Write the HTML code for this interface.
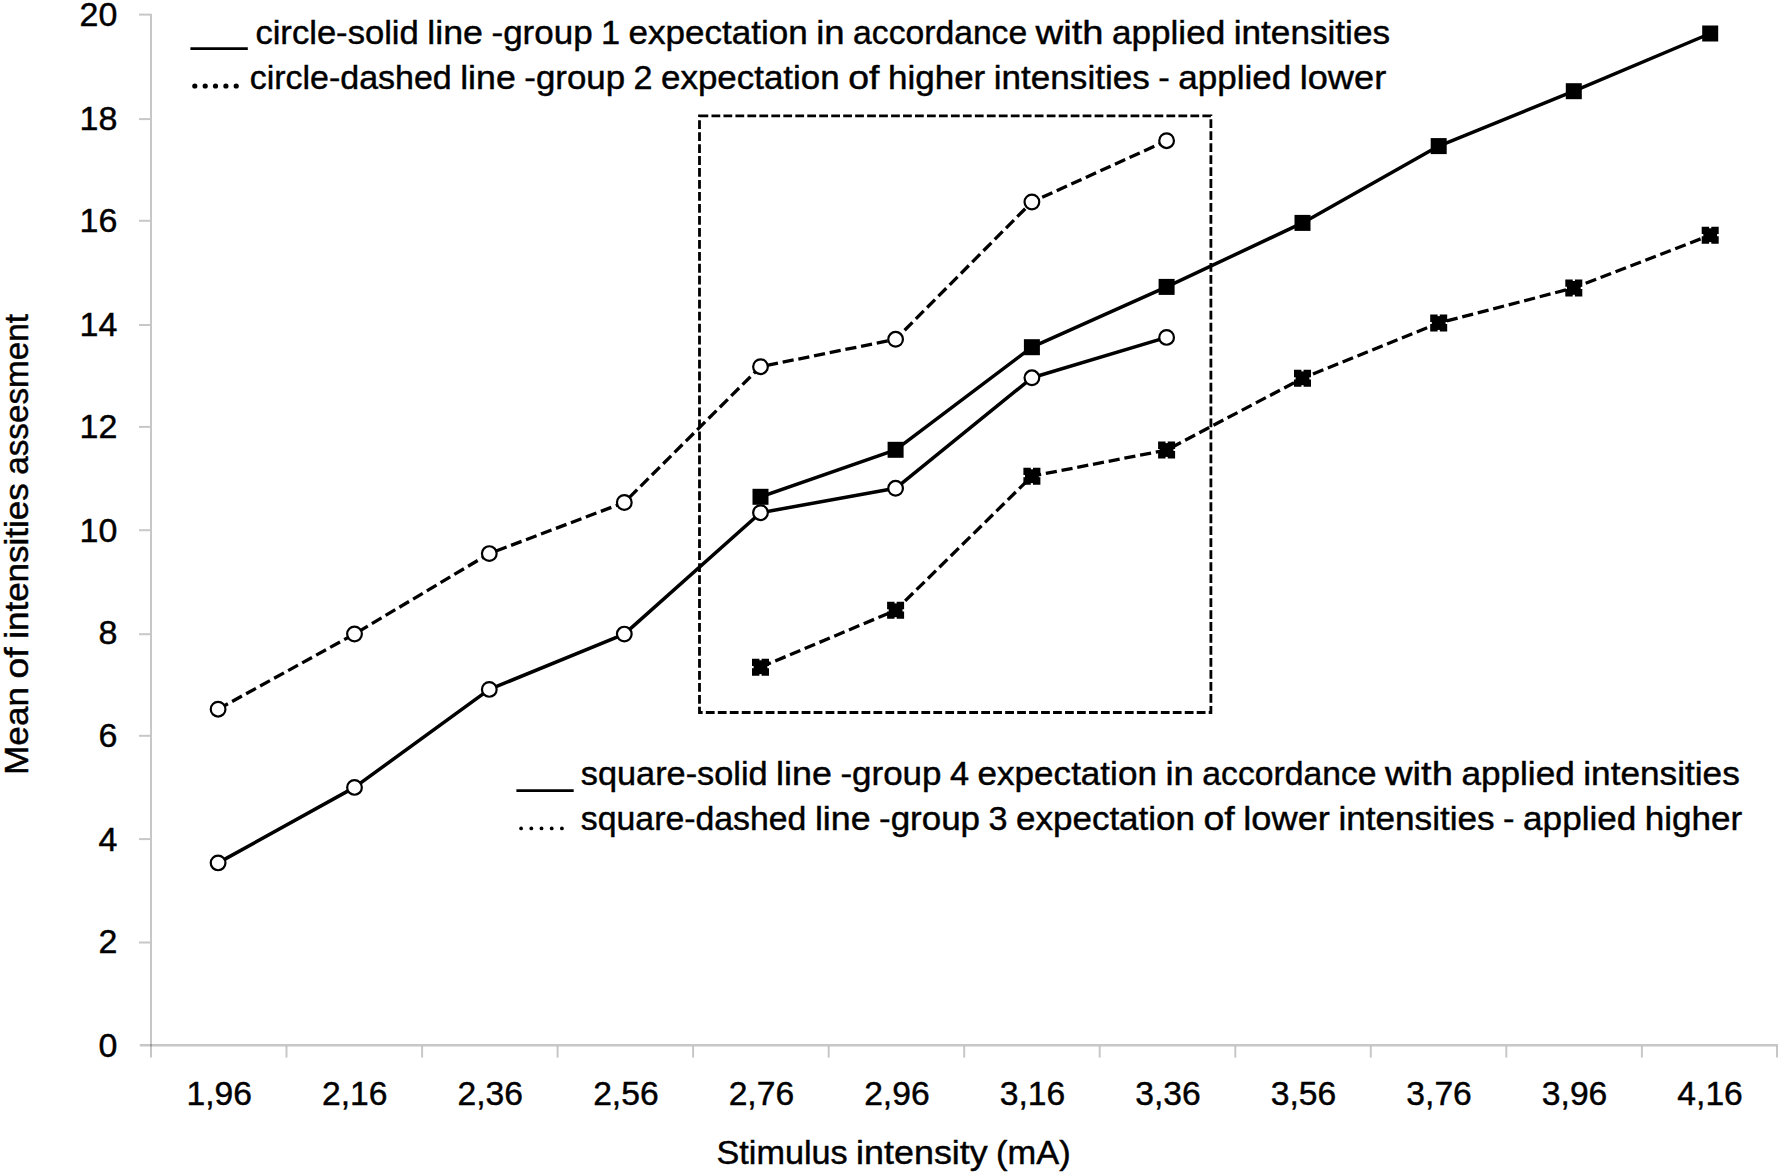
<!DOCTYPE html>
<html lang="en"><head><meta charset="utf-8"><title>Mean of intensities assesment vs stimulus intensity</title>
<style>
html,body{margin:0;padding:0;background:#fff}
svg{display:block}
text{font-family:"Liberation Sans", sans-serif;font-size:34px;fill:#000;stroke:#000;stroke-width:.45;stroke-linejoin:round}
.ax{stroke:#000;stroke-opacity:.22;stroke-width:2;fill:none}
.sl{stroke:#000;stroke-width:3.5;fill:none;stroke-linejoin:round}
.dl{stroke:#000;stroke-width:3.3;fill:none;stroke-dasharray:11.2 4.8}
.ci{fill:#fff;stroke:#000;stroke-width:2.2}
.sq{fill:#000}
.dq{fill:#000;stroke:#000;stroke-width:3.2;stroke-dasharray:11.6 2.2;stroke-dashoffset:5.8}
</style></head><body>
<svg width="1778" height="1172" viewBox="0 0 1778 1172">
<rect width="1778" height="1172" fill="#fff"/>
<g class="ax">
<line x1="151.0" y1="13.7" x2="151.0" y2="1057.6"/>
<line x1="139.8" y1="1045.3" x2="1778" y2="1045.3" stroke-width="2.5"/>
<line x1="139" y1="942.5" x2="150.0" y2="942.5"/>
<line x1="139" y1="839.1" x2="150.0" y2="839.1"/>
<line x1="139" y1="735.8" x2="150.0" y2="735.8"/>
<line x1="139" y1="634.2" x2="150.0" y2="634.2"/>
<line x1="139" y1="530.2" x2="150.0" y2="530.2"/>
<line x1="139" y1="426.9" x2="150.0" y2="426.9"/>
<line x1="139" y1="325.0" x2="150.0" y2="325.0"/>
<line x1="139" y1="220.8" x2="150.0" y2="220.8"/>
<line x1="139" y1="119.1" x2="150.0" y2="119.1"/>
<line x1="139" y1="14.6" x2="150.0" y2="14.6"/>
<line x1="286.5" y1="1046.3" x2="286.5" y2="1057.6"/>
<line x1="422.1" y1="1046.3" x2="422.1" y2="1057.6"/>
<line x1="557.6" y1="1046.3" x2="557.6" y2="1057.6"/>
<line x1="693.1" y1="1046.3" x2="693.1" y2="1057.6"/>
<line x1="828.7" y1="1046.3" x2="828.7" y2="1057.6"/>
<line x1="964.2" y1="1046.3" x2="964.2" y2="1057.6"/>
<line x1="1099.7" y1="1046.3" x2="1099.7" y2="1057.6"/>
<line x1="1235.3" y1="1046.3" x2="1235.3" y2="1057.6"/>
<line x1="1370.8" y1="1046.3" x2="1370.8" y2="1057.6"/>
<line x1="1506.3" y1="1046.3" x2="1506.3" y2="1057.6"/>
<line x1="1641.9" y1="1046.3" x2="1641.9" y2="1057.6"/>
<line x1="1777.0" y1="1046.3" x2="1777.0" y2="1057.6"/>
</g>
<g text-anchor="end">
<text x="117.4" y="1056.5">0</text>
<text x="117.4" y="953.0">2</text>
<text x="117.4" y="850.7">4</text>
<text x="117.4" y="747.4">6</text>
<text x="117.4" y="644.3">8</text>
<text x="117.4" y="541.6">10</text>
<text x="117.4" y="438.0">12</text>
<text x="117.4" y="335.6">14</text>
<text x="117.4" y="232.3">16</text>
<text x="117.4" y="130.0">18</text>
<text x="117.4" y="26.0">20</text>
</g>
<g text-anchor="middle">
<text x="219.3" y="1105.0" textLength="65.5" lengthAdjust="spacingAndGlyphs">1,96</text>
<text x="354.8" y="1105.0" textLength="65.5" lengthAdjust="spacingAndGlyphs">2,16</text>
<text x="490.3" y="1105.0" textLength="65.5" lengthAdjust="spacingAndGlyphs">2,36</text>
<text x="625.9" y="1105.0" textLength="65.5" lengthAdjust="spacingAndGlyphs">2,56</text>
<text x="761.4" y="1105.0" textLength="65.5" lengthAdjust="spacingAndGlyphs">2,76</text>
<text x="896.9" y="1105.0" textLength="65.5" lengthAdjust="spacingAndGlyphs">2,96</text>
<text x="1032.5" y="1105.0" textLength="65.5" lengthAdjust="spacingAndGlyphs">3,16</text>
<text x="1168.0" y="1105.0" textLength="65.5" lengthAdjust="spacingAndGlyphs">3,36</text>
<text x="1303.5" y="1105.0" textLength="65.5" lengthAdjust="spacingAndGlyphs">3,56</text>
<text x="1439.1" y="1105.0" textLength="65.5" lengthAdjust="spacingAndGlyphs">3,76</text>
<text x="1574.6" y="1105.0" textLength="65.5" lengthAdjust="spacingAndGlyphs">3,96</text>
<text x="1710.1" y="1105.0" textLength="65.5" lengthAdjust="spacingAndGlyphs">4,16</text>
</g>
<text y="43.6"><tspan x="255.4" textLength="163.4" lengthAdjust="spacingAndGlyphs">circle-solid</tspan> <tspan x="427.3" textLength="55.7" lengthAdjust="spacingAndGlyphs">line</tspan> <tspan x="491.5" textLength="101.1" lengthAdjust="spacingAndGlyphs">-group</tspan> <tspan x="601.0" textLength="19.1" lengthAdjust="spacingAndGlyphs">1</tspan> <tspan x="628.6" textLength="179.1" lengthAdjust="spacingAndGlyphs">expectation</tspan> <tspan x="816.2" textLength="28.4" lengthAdjust="spacingAndGlyphs">in</tspan> <tspan x="853.1" textLength="174.1" lengthAdjust="spacingAndGlyphs">accordance</tspan> <tspan x="1035.6" textLength="67.9" lengthAdjust="spacingAndGlyphs">with</tspan> <tspan x="1112.0" textLength="113.2" lengthAdjust="spacingAndGlyphs">applied</tspan> <tspan x="1233.7" textLength="156.4" lengthAdjust="spacingAndGlyphs">intensities</tspan></text>
<text y="88.6"><tspan x="249.7" textLength="202.0" lengthAdjust="spacingAndGlyphs">circle-dashed</tspan> <tspan x="460.2" textLength="55.6" lengthAdjust="spacingAndGlyphs">line</tspan> <tspan x="524.3" textLength="100.8" lengthAdjust="spacingAndGlyphs">-group</tspan> <tspan x="633.5" textLength="19.0" lengthAdjust="spacingAndGlyphs">2</tspan> <tspan x="661.0" textLength="178.7" lengthAdjust="spacingAndGlyphs">expectation</tspan> <tspan x="848.2" textLength="31.2" lengthAdjust="spacingAndGlyphs">of</tspan> <tspan x="887.9" textLength="97.4" lengthAdjust="spacingAndGlyphs">higher</tspan> <tspan x="993.8" textLength="156.0" lengthAdjust="spacingAndGlyphs">intensities</tspan> <tspan x="1158.3" textLength="11.5" lengthAdjust="spacingAndGlyphs">-</tspan> <tspan x="1178.2" textLength="113.0" lengthAdjust="spacingAndGlyphs">applied</tspan> <tspan x="1299.7" textLength="86.5" lengthAdjust="spacingAndGlyphs">lower</tspan></text>
<text y="785.2"><tspan x="580.8" textLength="186.8" lengthAdjust="spacingAndGlyphs">square-solid</tspan> <tspan x="776.1" textLength="55.8" lengthAdjust="spacingAndGlyphs">line</tspan> <tspan x="840.4" textLength="101.1" lengthAdjust="spacingAndGlyphs">-group</tspan> <tspan x="950.0" textLength="19.1" lengthAdjust="spacingAndGlyphs">4</tspan> <tspan x="977.6" textLength="179.3" lengthAdjust="spacingAndGlyphs">expectation</tspan> <tspan x="1165.4" textLength="28.4" lengthAdjust="spacingAndGlyphs">in</tspan> <tspan x="1202.3" textLength="174.2" lengthAdjust="spacingAndGlyphs">accordance</tspan> <tspan x="1385.0" textLength="67.9" lengthAdjust="spacingAndGlyphs">with</tspan> <tspan x="1461.4" textLength="113.4" lengthAdjust="spacingAndGlyphs">applied</tspan> <tspan x="1583.3" textLength="156.5" lengthAdjust="spacingAndGlyphs">intensities</tspan></text>
<text y="830.3"><tspan x="580.8" textLength="225.6" lengthAdjust="spacingAndGlyphs">square-dashed</tspan> <tspan x="814.9" textLength="55.7" lengthAdjust="spacingAndGlyphs">line</tspan> <tspan x="879.0" textLength="101.0" lengthAdjust="spacingAndGlyphs">-group</tspan> <tspan x="988.5" textLength="19.0" lengthAdjust="spacingAndGlyphs">3</tspan> <tspan x="1016.0" textLength="179.0" lengthAdjust="spacingAndGlyphs">expectation</tspan> <tspan x="1203.5" textLength="31.3" lengthAdjust="spacingAndGlyphs">of</tspan> <tspan x="1243.3" textLength="86.6" lengthAdjust="spacingAndGlyphs">lower</tspan> <tspan x="1338.4" textLength="156.3" lengthAdjust="spacingAndGlyphs">intensities</tspan> <tspan x="1503.1" textLength="11.5" lengthAdjust="spacingAndGlyphs">-</tspan> <tspan x="1523.1" textLength="113.2" lengthAdjust="spacingAndGlyphs">applied</tspan> <tspan x="1644.7" textLength="97.6" lengthAdjust="spacingAndGlyphs">higher</tspan></text>
<line x1="190.4" y1="48.6" x2="247.8" y2="48.6" stroke="#000" stroke-width="2.6"/>
<g fill="#000"><circle cx="194.8" cy="86" r="2.6"/><circle cx="205.2" cy="86" r="2.6"/><circle cx="215.5" cy="86" r="2.6"/><circle cx="225.9" cy="86" r="2.6"/><circle cx="236.2" cy="86" r="2.6"/></g>
<line x1="516.4" y1="790.6" x2="573.7" y2="790.6" stroke="#000" stroke-width="2.6"/>
<g fill="#000"><circle cx="521.1" cy="828.4" r="1.9"/><circle cx="531.3" cy="828.4" r="1.9"/><circle cx="541.5" cy="828.4" r="1.9"/><circle cx="551.7" cy="828.4" r="1.9"/><circle cx="561.9" cy="828.4" r="1.9"/></g>
<text y="1163.7"><tspan x="716.5" textLength="131.1" lengthAdjust="spacingAndGlyphs">Stimulus</tspan> <tspan x="856.1" textLength="131.6" lengthAdjust="spacingAndGlyphs">intensity</tspan> <tspan x="996.1" textLength="74.6" lengthAdjust="spacingAndGlyphs">(mA)</tspan></text>
<text y="27.5" transform="rotate(-90)"><tspan x="-775.0" textLength="88.2" lengthAdjust="spacingAndGlyphs">Mean</tspan> <tspan x="-678.4" textLength="31.1" lengthAdjust="spacingAndGlyphs">of</tspan> <tspan x="-638.8" textLength="155.6" lengthAdjust="spacingAndGlyphs">intensities</tspan> <tspan x="-474.8" textLength="160.7" lengthAdjust="spacingAndGlyphs">assesment</tspan></text>
<rect x="699.5" y="115.8" width="511.4" height="596.7" fill="none" stroke="#000" stroke-width="2.8" stroke-dasharray="8.78 3.193"/>
<polyline class="dl" points="218.1,709.2 354.5,634.0 489.3,553.6 624.3,502.5 760.5,366.7 895.6,339.3 1031.9,202.0 1166.6,140.7"/>
<polyline class="dl" points="760.5,667.2 895.6,610.3 1031.9,476.2 1166.6,450.0 1302.5,378.3 1438.7,323.0 1573.8,287.9 1710.2,235.2"/>
<polyline class="sl" points="760.5,496.8 895.6,449.8 1031.9,347.2 1166.6,286.9 1302.5,222.9 1438.7,146.1 1573.8,91.2 1710.2,33.5"/>
<polyline class="sl" points="218.1,862.9 354.5,787.4 489.3,689.4 624.3,634.1 760.5,512.7 895.6,488.3 1031.9,377.8 1166.6,337.4"/>
<rect class="dq" x="753.6" y="660.3" width="13.8" height="13.8"/>
<rect class="dq" x="888.7" y="603.4" width="13.8" height="13.8"/>
<rect class="dq" x="1025.0" y="469.3" width="13.8" height="13.8"/>
<rect class="dq" x="1159.7" y="443.1" width="13.8" height="13.8"/>
<rect class="dq" x="1295.6" y="371.4" width="13.8" height="13.8"/>
<rect class="dq" x="1431.8" y="316.1" width="13.8" height="13.8"/>
<rect class="dq" x="1566.9" y="281.0" width="13.8" height="13.8"/>
<rect class="dq" x="1703.3" y="228.3" width="13.8" height="13.8"/>
<rect class="sq" x="752.5" y="488.8" width="16" height="16"/>
<rect class="sq" x="887.6" y="441.8" width="16" height="16"/>
<rect class="sq" x="1023.9" y="339.2" width="16" height="16"/>
<rect class="sq" x="1158.6" y="278.9" width="16" height="16"/>
<rect class="sq" x="1294.5" y="214.9" width="16" height="16"/>
<rect class="sq" x="1430.7" y="138.1" width="16" height="16"/>
<rect class="sq" x="1565.8" y="83.2" width="16" height="16"/>
<rect class="sq" x="1702.2" y="25.5" width="16" height="16"/>
<circle class="ci" cx="218.1" cy="709.2" r="7.35"/>
<circle class="ci" cx="354.5" cy="634.0" r="7.35"/>
<circle class="ci" cx="489.3" cy="553.6" r="7.35"/>
<circle class="ci" cx="624.3" cy="502.5" r="7.35"/>
<circle class="ci" cx="760.5" cy="366.7" r="7.35"/>
<circle class="ci" cx="895.6" cy="339.3" r="7.35"/>
<circle class="ci" cx="1031.9" cy="202.0" r="7.35"/>
<circle class="ci" cx="1166.6" cy="140.7" r="7.35"/>
<circle class="ci" cx="218.1" cy="862.9" r="7.35"/>
<circle class="ci" cx="354.5" cy="787.4" r="7.35"/>
<circle class="ci" cx="489.3" cy="689.4" r="7.35"/>
<circle class="ci" cx="624.3" cy="634.1" r="7.35"/>
<circle class="ci" cx="760.5" cy="512.7" r="7.35"/>
<circle class="ci" cx="895.6" cy="488.3" r="7.35"/>
<circle class="ci" cx="1031.9" cy="377.8" r="7.35"/>
<circle class="ci" cx="1166.6" cy="337.4" r="7.35"/>
</svg></body></html>
